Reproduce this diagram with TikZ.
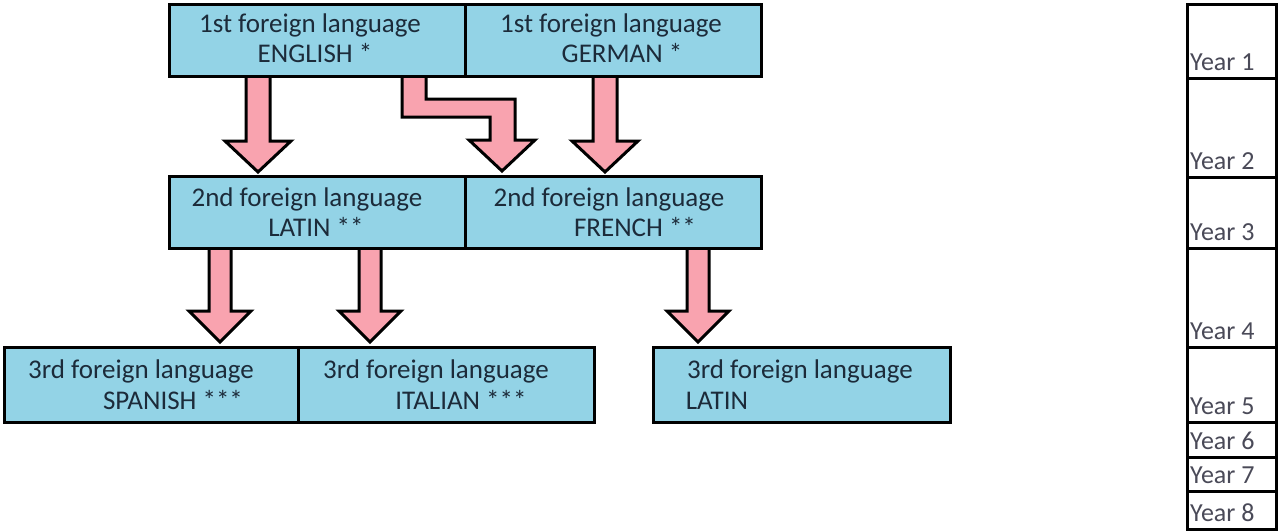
\documentclass[tikz,border=0pt]{standalone}
\usepackage{fontspec}
\setmainfont{Carlito}
\usetikzlibrary{calc}
\definecolor{boxblue}{HTML}{93D3E6}
\definecolor{arrowpink}{HTML}{F9A3AF}
\definecolor{txtdark}{HTML}{1C2B3A}
\definecolor{yeartxt}{HTML}{4A4A58}
\tikzset{
  langbox/.style={draw=black, line width=3pt, fill=boxblue, rectangle, inner sep=0pt, anchor=north west},
  langtxt/.style={anchor=base, text=txtdark, inner sep=0pt, font=\fontsize{27}{30}\selectfont},
  barrow/.style={draw=black, line width=3pt, fill=arrowpink, line join=miter},
  yearcell/.style={draw=black, line width=2.5pt, fill=white, rectangle, inner sep=0pt, anchor=north west, minimum width=89pt},
  yeartext/.style={anchor=base west, text=yeartxt, inner sep=0pt, font=\fontsize{26}{28}\selectfont},
}
\newcommand\downblock[6]{% center x, top y, tip y, shaft half, head half, head height
  \filldraw[barrow] (#1-#4,#2) -- (#1-#4,#3-#6) -- (#1-#5,#3-#6) -- (#1,#3) -- (#1+#5,#3-#6) -- (#1+#4,#3-#6) -- (#1+#4,#2) -- cycle;}
\begin{document}
\begin{tikzpicture}[x=1pt,y=-1pt]
\useasboundingbox (0,0) rectangle (1278,531);
% arrows (drawn first, boxes cover their tops)
\downblock{258}{70}{172}{12}{33}{31}
\downblock{605}{70}{172}{12}{33}{31}
\filldraw[barrow] (402,70) -- (402,117) -- (490,117) -- (490,140) -- (469,140) -- (502,171) -- (535,140) -- (515,140) -- (515,99) -- (426,99) -- (426,70) -- cycle;
\downblock{220}{242}{342}{11}{31}{31}
\downblock{370}{242}{342}{11}{31}{31}
\downblock{698}{242}{342}{11}{31}{31}
% row 1
\node[langbox, minimum width=296pt, minimum height=72pt] (eng) at (168,3) {};
\node[langbox, minimum width=296pt, minimum height=72pt] (ger) at (464,3) {};
\node[langtxt] (engA) at (310,32) {1st foreign language};
\node[langtxt] (engB) at (315,62) {ENGLISH *};
\node[langtxt] (gerA) at (611,32) {1st foreign language};
\node[langtxt] (gerB) at (622,62) {GERMAN *};
% row 2
\node[langbox, minimum width=296pt, minimum height=72pt] (lat) at (168,175) {};
\node[langbox, minimum width=296pt, minimum height=72pt] (fre) at (464,175) {};
\node[langtxt] (latA) at (307,206) {2nd foreign language};
\node[langtxt] (latB) at (316,236) {LATIN **};
\node[langtxt] (freA) at (609,206) {2nd foreign language};
\node[langtxt] (freB) at (635,236) {FRENCH **};
% row 3
\node[langbox, minimum width=294pt, minimum height=75pt] (spa) at (3,346) {};
\node[langbox, minimum width=296pt, minimum height=75pt] (ita) at (297,346) {};
\node[langbox, minimum width=297pt, minimum height=75pt] (lat3) at (652,346) {};
\node[langtxt] (spaA) at (141,378) {3rd foreign language};
\node[langtxt] (spaB) at (173,409) {SPANISH ***};
\node[langtxt] (itaA) at (436,378) {3rd foreign language};
\node[langtxt] (itaB) at (461,409) {ITALIAN ***};
\node[langtxt] (lat3A) at (800,378) {3rd foreign language};
\node[langtxt] (lat3B) at (717,409) {LATIN};
% year column
\node[yearcell, minimum height=74pt] (y1) at (1186,3) {};
\node[yearcell, minimum height=99pt] (y2) at (1186,77) {};
\node[yearcell, minimum height=71pt] (y3) at (1186,176) {};
\node[yearcell, minimum height=99pt] (y4) at (1186,247) {};
\node[yearcell, minimum height=75pt] (y5) at (1186,346) {};
\node[yearcell, minimum height=35pt] (y6) at (1186,421) {};
\node[yearcell, minimum height=34pt] (y7) at (1186,456) {};
\node[yearcell, minimum height=38pt] (y8) at (1186,490) {};
\foreach \c/\t in {y1/Year 1,y2/Year 2,y3/Year 3,y4/Year 4,y5/Year 5,y6/Year 6,y7/Year 7,y8/Year 8}
  \node[yeartext] (\c t) at ($(\c.south west)+(4,-9)$) {\t};
\end{tikzpicture}
\end{document}
